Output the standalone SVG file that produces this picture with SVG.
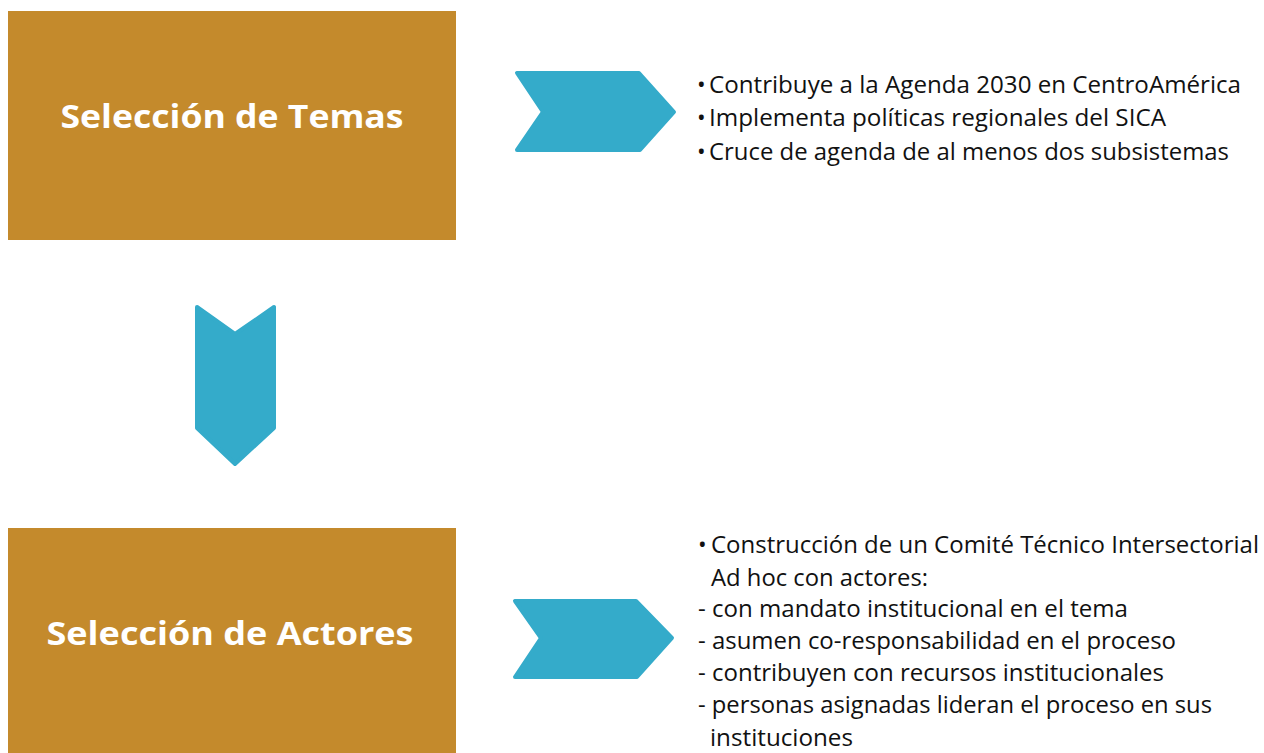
<svg xmlns="http://www.w3.org/2000/svg" width="1264" height="753" viewBox="0 0 1264 753">
<style>
.box{fill:#C48A2C}
.arrow{fill:#34ABCA;stroke:#34ABCA;stroke-width:4;stroke-linejoin:round}
.title{font-family:"Open Sans","Liberation Sans",sans-serif;font-weight:bold;font-size:33px;fill:#FFFFFF}
.body{font-family:"Open Sans","Liberation Sans",sans-serif;font-size:23px;fill:#111111}
</style>
<rect width="1264" height="753" fill="#FFFFFF"/>
<g id="node-temas">
<rect class="box" x="8" y="11" width="448" height="229"/>
<text class="title" x="232" y="128" text-anchor="middle" textLength="343" lengthAdjust="spacingAndGlyphs">Selección de Temas</text>
</g>
<g id="node-actores">
<rect class="box" x="8" y="528" width="448" height="225"/>
<text class="title" x="230" y="645" text-anchor="middle" textLength="367" lengthAdjust="spacingAndGlyphs">Selección de Actores</text>
</g>
<g id="connectors">
<polygon class="arrow" points="517,73 639,73 674,112 640,150 517,150 543,112"/>
<polygon class="arrow" points="197,307 235,334 274,307 274,428 235,464 197,428"/>
<polygon class="arrow" points="515,601 636,601 672,638 637,677 515,677 541,638"/>
</g>
<g id="node-temas-details">
<text class="body" x="697" y="93">•</text>
<text class="body" x="709" y="93" textLength="532" lengthAdjust="spacingAndGlyphs">Contribuye a la Agenda 2030 en CentroAmérica</text>
<text class="body" x="697" y="126">•</text>
<text class="body" x="709" y="126" textLength="457" lengthAdjust="spacingAndGlyphs">Implementa políticas regionales del SICA</text>
<text class="body" x="697" y="160">•</text>
<text class="body" x="709" y="160" textLength="520" lengthAdjust="spacingAndGlyphs">Cruce de agenda de al menos dos subsistemas</text>
</g>
<g id="node-actores-details">
<text class="body" x="698" y="553">•</text>
<text class="body" x="711" y="553" textLength="548" lengthAdjust="spacingAndGlyphs">Construcción de un Comité Técnico Intersectorial</text>
<text class="body" x="711" y="586" textLength="217" lengthAdjust="spacingAndGlyphs">Ad hoc con actores:</text>
<text class="body" x="698" y="617" textLength="430" lengthAdjust="spacingAndGlyphs">- con mandato institucional en el tema</text>
<text class="body" x="698" y="649" textLength="478" lengthAdjust="spacingAndGlyphs">- asumen co-responsabilidad en el proceso</text>
<text class="body" x="698" y="681" textLength="466" lengthAdjust="spacingAndGlyphs">- contribuyen con recursos institucionales</text>
<text class="body" x="698" y="713" textLength="514" lengthAdjust="spacingAndGlyphs">- personas asignadas lideran el proceso en sus</text>
<text class="body" x="710" y="746" textLength="143" lengthAdjust="spacingAndGlyphs">instituciones</text>
</g>
</svg>
